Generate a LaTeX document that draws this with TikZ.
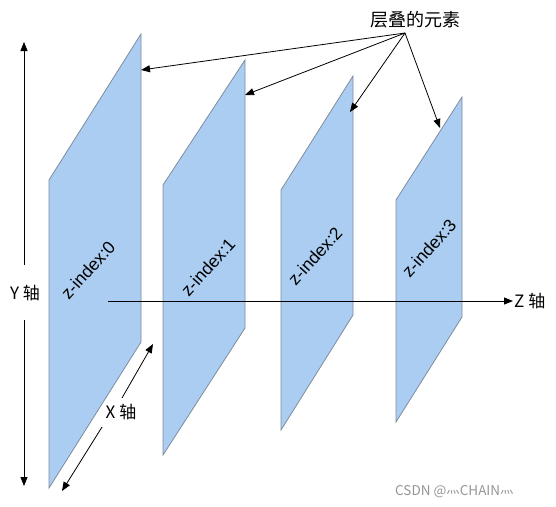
\documentclass[tikz,border=0pt]{standalone}
\usepackage{fontspec}
\setmainfont{Liberation Sans}
\newfontfamily\cjk{Noto Sans CJK SC}
\usetikzlibrary{arrows.meta}
\definecolor{panelfill}{RGB}{172,205,242}
\definecolor{paneledge}{RGB}{125,140,158}
\definecolor{wmgray}{RGB}{150,150,150}
\tikzset{
  panel/.style={fill=panelfill, draw=paneledge, line width=0.8pt},
  arr/.style={-{Triangle[length=9pt,width=7pt]}, line width=0.8pt, black},
  zlabel/.style={rotate=48, font=\fontsize{17.5}{20}\selectfont, inner sep=0pt},
  axlabel/.style={font=\cjk\fontsize{17}{20}\selectfont, inner sep=1pt},
}
\newcommand{\huo}{\raisebox{2.5pt}{灬}}
\begin{document}
\begin{tikzpicture}[x=1pt,y=-1pt]
\useasboundingbox[fill=white] (0,0) rectangle (556,506);
% panels
\draw[panel] (49,180) -- (141,34) -- (141,342) -- (49,488) -- cycle;
\draw[panel] (163,185) -- (245,60) -- (245,328) -- (163,455) -- cycle;
\draw[panel] (281,190) -- (353,76) -- (353,315) -- (281,430) -- cycle;
\draw[panel] (396,200) -- (462,97) -- (462,317) -- (396,422) -- cycle;
% panel labels
\node[zlabel] (t0) at (88,270) {z-index:0};
\node[zlabel] (t1) at (208,267) {z-index:1};
\node[zlabel] (t2) at (315,256) {z-index:2};
\node[zlabel] (t3) at (429,248) {z-index:3};
% Z axis
\coordinate (zstart) at (108,301);
\node[axlabel, anchor=west] (zlab) at (513,301) {Z 轴};
\draw[arr] (zstart) -- (zlab.west);
% Y axis
\node[axlabel] (ylab) at (25,293) {Y 轴};
\coordinate (ytop) at (24,42);
\coordinate (ybot) at (24,486);
\coordinate (ygap1) at (24,265);
\coordinate (ygap2) at (24,320);
\draw[arr] (ygap1) -- (ytop);
\draw[arr] (ygap2) -- (ybot);
% X axis
\node[axlabel] (xlab) at (121,412) {X 轴};
\coordinate (xtop) at (153,344);
\coordinate (xbot) at (62,491);
\coordinate (xgap1) at (122,398);
\coordinate (xgap2) at (102,427);
\draw[arr] (xgap1) -- (xtop);
\draw[arr] (xgap2) -- (xbot);
% callout
\node[axlabel, font=\cjk\fontsize{18}{21}\selectfont] (clab) at (415,20) {层叠的元素};
\coordinate (src) at (405,33);
\coordinate (c0) at (141,70);
\coordinate (c1) at (245,95);
\coordinate (c2) at (350,112);
\coordinate (c3) at (440,128);
\draw[arr] (src) -- (c0);
\draw[arr] (src) -- (c1);
\draw[arr] (src) -- (c2);
\draw[arr] (src) -- (c3);
% watermark
\node[font=\cjk\fontsize{13.5}{16}\selectfont, text=wmgray, anchor=west, inner sep=0pt] (wm) at (395,492) {CSDN @\huo CHAIN\huo};
\end{tikzpicture}
\end{document}
